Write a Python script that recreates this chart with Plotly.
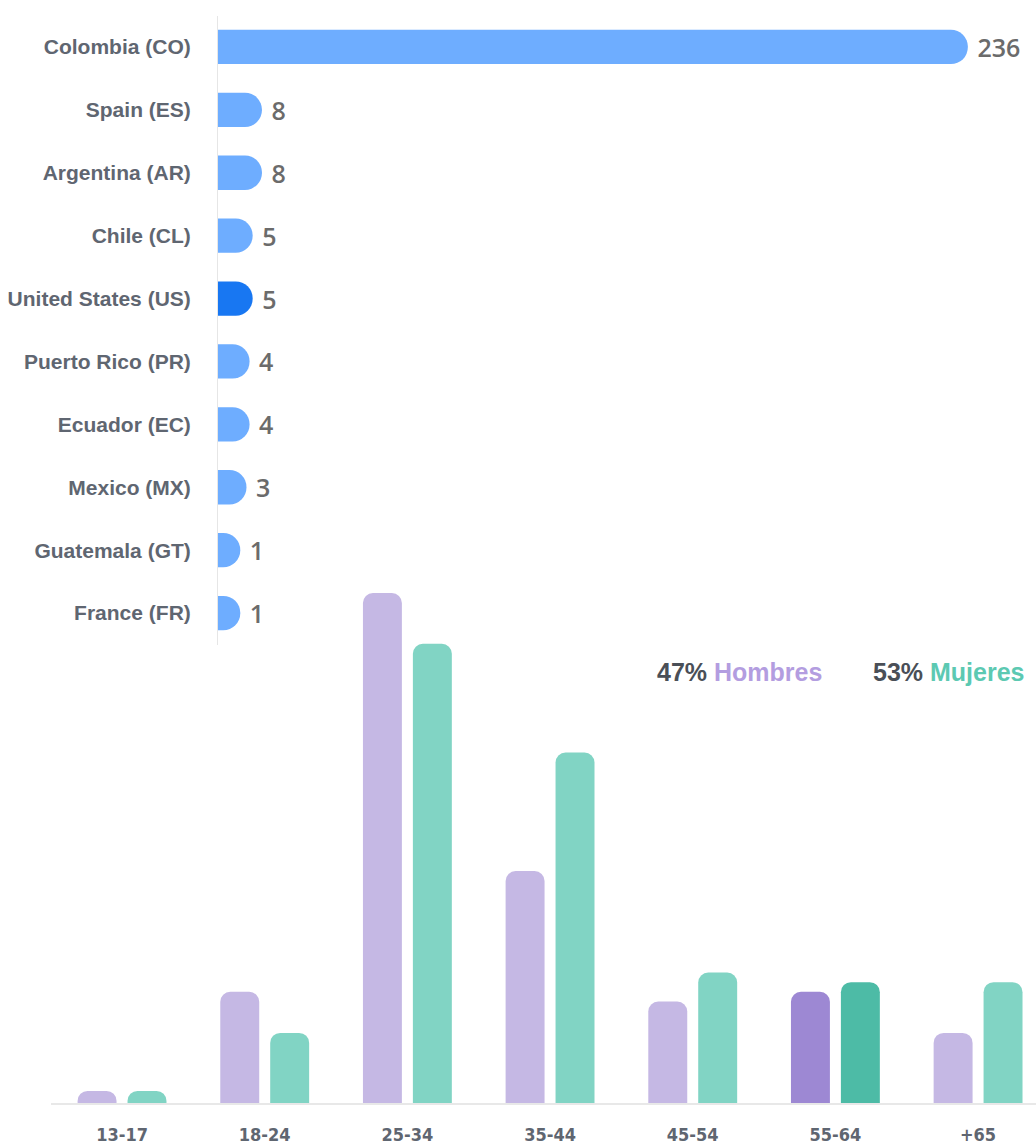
import plotly.graph_objects as go

# ---- data ----
countries = ["Colombia (CO)", "Spain (ES)", "Argentina (AR)", "Chile (CL)",
             "United States (US)", "Puerto Rico (PR)", "Ecuador (EC)",
             "Mexico (MX)", "Guatemala (GT)", "France (FR)"]
country_values = [236, 8, 8, 5, 5, 4, 4, 3, 1, 1]

age_groups = ["13-17", "18-24", "25-34", "35-44", "45-54", "55-64", "+65"]
hombres = [0.5, 4.6, 21.1, 9.6, 4.2, 4.6, 2.9]
mujeres = [0.5, 2.9, 19.0, 14.5, 5.4, 5.0, 5.0]
pct_hombres = 47
pct_mujeres = 53

# ---- styles ----
W, H = 1036, 1144
blue = "#6eadff"
blue_hi = "#1877f2"
h_col, h_hi = "#c5b8e4", "#9d88d3"
m_col, m_hi = "#81d4c4", "#4dbba6"
highlight_country = "United States (US)"
highlight_age = "55-64"
cap_pad = 6.2  # rounded cap length (in axis units) added to each bar

fig = go.Figure()

fig.add_trace(go.Bar(
    y=countries, x=[v + cap_pad for v in country_values], orientation="h",
    marker=dict(color=[blue_hi if c == highlight_country else blue for c in countries],
                cornerradius="50%", line=dict(width=0)),
    text=country_values, texttemplate=" %{text}", textposition="outside",
    textfont=dict(family="Open Sans", size=25, color="#6b6b6b", weight=600),
    cliponaxis=False,
    xaxis="x", yaxis="y", showlegend=False, hoverinfo="skip",
))

fig.add_trace(go.Bar(
    x=age_groups, y=hombres, name="Hombres",
    marker=dict(color=[h_hi if a == highlight_age else h_col for a in age_groups],
                cornerradius=10, line=dict(width=0)),
    xaxis="x2", yaxis="y2", showlegend=False, hoverinfo="skip",
))
fig.add_trace(go.Bar(
    x=age_groups, y=mujeres, name="Mujeres",
    marker=dict(color=[m_hi if a == highlight_age else m_col for a in age_groups],
                cornerradius=10, line=dict(width=0)),
    xaxis="x2", yaxis="y2", showlegend=False, hoverinfo="skip",
))

# bottom chart y scale: baseline at 1103 px, 21.1 -> 593 px
px_per_unit = (1103 - 593) / 21.1
y2_top = 24.0
y2_dom_top = 1 - (1103 - y2_top * px_per_unit) / H

label_font = dict(family="Liberation Sans, Arial", size=21, color="#5f6671", weight="bold")
legend_font = dict(family="Liberation Sans, Arial", size=25, color="#4a4f57", weight="bold")

fig.update_layout(
    width=W, height=H,
    margin=dict(l=0, r=0, t=0, b=0),
    paper_bgcolor="white", plot_bgcolor="rgba(0,0,0,0)",
    barmode="group", bargap=0.3, bargroupgap=0.22,
    xaxis=dict(domain=[218 / W, 1], range=[0, 258 + cap_pad], showgrid=False, zeroline=False,
               showticklabels=False, fixedrange=True),
    yaxis=dict(domain=[1 - 644.5 / H, 1 - 15.5 / H], autorange="reversed",
               showgrid=False, zeroline=False, showline=True, linecolor="#e6e6e6",
               linewidth=1, tickfont=label_font, ticklabelstandoff=22,
               automargin=False, anchor="x"),
    xaxis2=dict(domain=[50.7 / W, 1], range=[-0.5, 6.406], showgrid=False, zeroline=False,
                showline=True, linecolor="#e8e8e8", linewidth=2, anchor="y2",
                tickfont=dict(family="Liberation Sans Narrow, DejaVu Sans Condensed, Liberation Sans",
                              size=18, color="#5f6671", weight="bold"),
                ticklabelstandoff=14, automargin=False),
    yaxis2=dict(domain=[1 - 1103 / H, y2_dom_top], range=[0, y2_top], showgrid=False,
                zeroline=False, showticklabels=False, anchor="x2"),
    annotations=[
        dict(xref="paper", yref="paper", x=824 / W, y=1 - 672 / H, xanchor="right",
             yanchor="middle", showarrow=False, font=legend_font,
             text=f"{pct_hombres}% <span style='color:#b39de0'>Hombres</span>"),
        dict(xref="paper", yref="paper", x=1026 / W, y=1 - 672 / H, xanchor="right",
             yanchor="middle", showarrow=False, font=legend_font,
             text=f"{pct_mujeres}% <span style='color:#5cc9b2'>Mujeres</span>"),
    ],
)

fig.write_html("out.html", config={"displayModeBar": False},
               post_script="document.body.style.margin='0px';")
